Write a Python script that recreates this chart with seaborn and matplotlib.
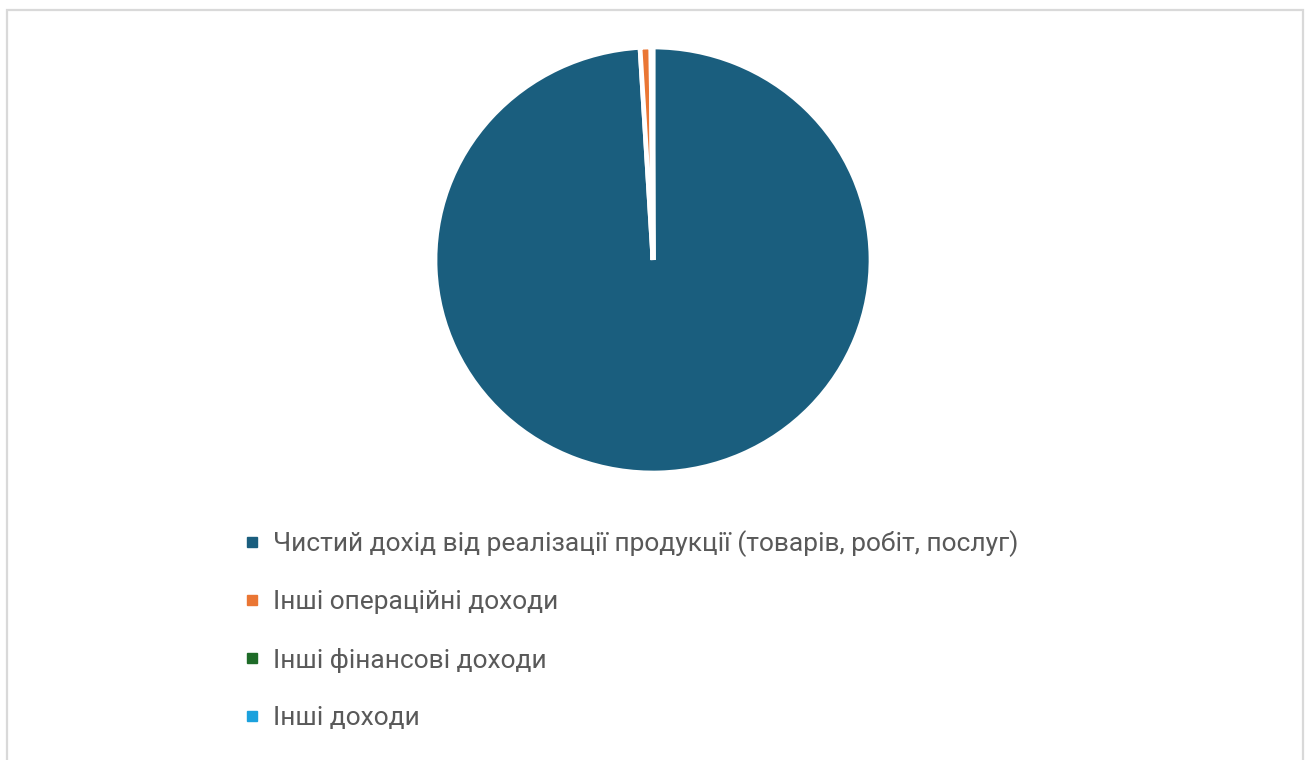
import matplotlib
matplotlib.use("Agg")
import matplotlib.pyplot as plt
from matplotlib.patches import Rectangle
from matplotlib.lines import Line2D
import seaborn as sns

# Income structure (shares, %)
categories = [
    "Чистий дохід від реалізації продукції (товарів, робіт, послуг)",
    "Інші операційні доходи",
    "Інші фінансові доходи",
    "Інші доходи",
]
shares = [99.05, 0.80, 0.10, 0.05]
colors = ["#1a5e7e", "#ea7634", "#1e6b28", "#1ba1dd"]

sns.set_theme(style="white")
plt.rcParams["font.family"] = ["Roboto", "DejaVu Sans"]

W, H, DPI = 1309, 760, 100
fig = plt.figure(figsize=(W / DPI, H / DPI), dpi=DPI)
fig.patch.set_facecolor("white")

# light frame around the chart area
fig.patches.append(Rectangle((7 / W, -0.05), (1303 - 7) / W, (H - 10) / H + 0.05,
                             transform=fig.transFigure, fill=False,
                             edgecolor="#d9d9d9", linewidth=1.6))

# pie area in pixel terms
cx, cy = 653, 260
rx, ry = 218, 213
ax = fig.add_axes([(cx - rx) / W, (H - cy - ry) / H, 2 * rx / W, 2 * ry / H])
ax.pie(shares, colors=colors, startangle=90, counterclock=False,
       radius=1.0, wedgeprops=dict(edgecolor="white", linewidth=3.4))
ax.set_aspect("auto")
ax.set_xlim(-1, 1)
ax.set_ylim(-1, 1)
ax.axis("off")

# legend below the pie
handles = [Line2D([0], [0], marker="s", linestyle="none", markersize=7.5,
                  markerfacecolor=c, markeredgecolor=c) for c in colors]
leg = fig.legend(handles, categories, loc="upper left",
                 bbox_to_anchor=(228 / W, (H - 517) / H),
                 frameon=False, fontsize=19, labelcolor="#595959",
                 handlelength=0.8, handletextpad=0.42, labelspacing=1.26,
                 borderpad=0)

fig.savefig("out.png", dpi=DPI, facecolor="white")
